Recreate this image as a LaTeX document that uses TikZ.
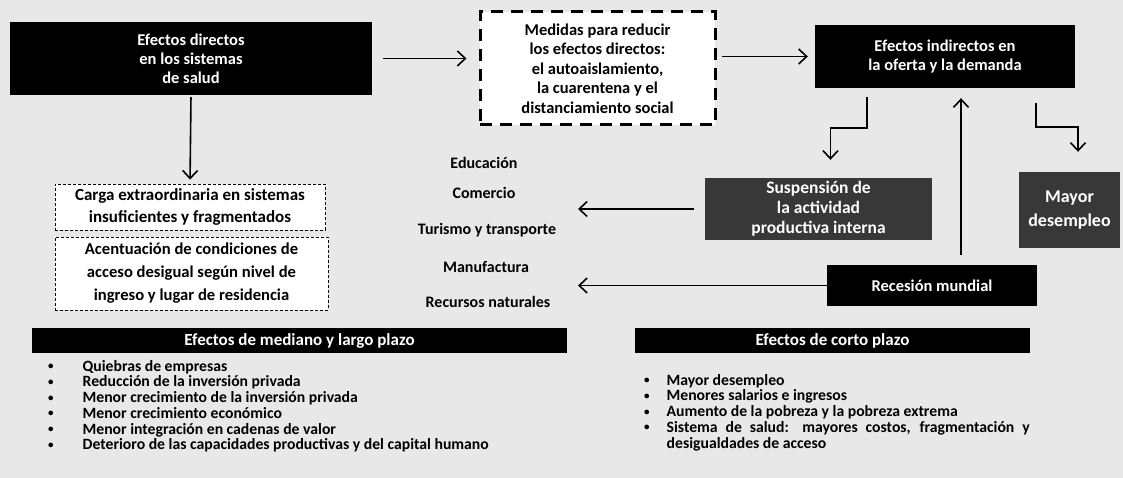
\documentclass[tikz,border=0pt]{standalone}
\usepackage{fontspec}
\setmainfont{Carlito}
\usetikzlibrary{arrows.meta}

\begin{document}
\begin{tikzpicture}[x=1pt,y=-1pt,
  negro/.style={fill=black,text=white,font=\bfseries\fontsize{16.5}{19}\selectfont,align=center,inner sep=0pt},
  gris/.style={negro,fill=black!78},
  punteado/.style={draw,densely dashed,line width=0.8pt,fill=white,font=\bfseries\fontsize{16.6}{23}\selectfont,align=center,inner sep=0pt},
  sector/.style={font=\bfseries\fontsize{16}{16}\selectfont},
  lista/.style={font=\bfseries\fontsize{15.7}{15.7}\selectfont,inner sep=0pt,anchor=north west},
  flecha/.style={line width=1.6pt,-{Straight Barb[length=8pt,width=15pt]}}]
\newcommand{\vin}{\raisebox{1.5pt}{\fontsize{11}{11}\selectfont\textbullet}}
\fill[black!9] (0,0) rectangle (1123,478);
\useasboundingbox (0,0) rectangle (1123,478);
\node[negro,minimum width=362pt,minimum height=73pt] (dirs) at (191,58.5) {Efectos directos\\en los sistemas\\de salud};
\node[draw,fill=white,line width=3pt,dash pattern=on 12pt off 8pt,minimum width=235pt,minimum height=113pt,align=center,inner sep=0pt,font=\bfseries\fontsize{16.5}{19.5}\selectfont] (medidas) at (597.5,68.5) {Medidas para reducir\\los efectos directos:\\el autoaislamiento,\\la cuarentena y el\\distanciamiento social};
\node[negro,minimum width=260pt,minimum height=63pt] (indir) at (945,56.5) {Efectos indirectos en\\la oferta y la demanda};
\node[punteado,minimum width=270pt,minimum height=46pt,font=\bfseries\fontsize{17}{22}\selectfont] (carga) at (190,207) {Carga extraordinaria en sistemas\\insuficientes y fragmentados};
\node[punteado,minimum width=273pt,minimum height=73pt] (acent) at (191.5,273.5) {Acentuación de condiciones de\\acceso desigual según nivel de\\ingreso y lugar de residencia};
\node[gris,minimum width=227pt,minimum height=62pt,font=\bfseries\fontsize{17.5}{20}\selectfont] (susp) at (818.5,209) {Suspensión de\\la actividad\\productiva interna};
\node[gris,minimum width=101pt,minimum height=76pt,font=\bfseries\fontsize{18}{24}\selectfont] (mayor) at (1069.5,210) {Mayor\\desempleo};
\node[negro,minimum width=210pt,minimum height=41pt] (reces) at (932,285.5) {Recesión mundial};
\node[sector] (edu) at (484,163) {Educación};
\node[sector] (com) at (484,193) {Comercio};
\node[sector] (tur) at (487,230) {Turismo y transporte};
\node[sector] (man) at (486,267) {Manufactura};
\node[sector] (rec) at (488,302) {Recursos naturales};
\coordinate (sect) at (578,250);
\node[negro,minimum width=535pt,minimum height=25pt,font=\bfseries\fontsize{17}{19}\selectfont] (mlp) at (299.5,340.5) {Efectos de mediano y largo plazo};
\node[negro,minimum width=395pt,minimum height=25pt,font=\bfseries\fontsize{17}{19}\selectfont] (cp) at (832.5,340.5) {Efectos de corto plazo};
\node[lista] (lmlp) at (48,360) {\begin{tabular}{@{}l@{\hspace{29pt}}l@{}}
\vin & Quiebras de empresas\\
\vin & Reducción de la inversión privada\\
\vin & Menor crecimiento de la inversión privada\\
\vin & Menor crecimiento económico\\
\vin & Menor integración en cadenas de valor\\
\vin & Deterioro de las capacidades productivas y del capital humano
\end{tabular}};
\node[lista] (lcp) at (644,374) {\begin{tabular}{@{}l@{\hspace{17pt}}p{363pt}@{}}
\vin & Mayor desempleo\\
\vin & Menores salarios e ingresos\\
\vin & Aumento de la pobreza y la pobreza extrema\\
\vin & \hyphenpenalty=10000 Sistema de salud: mayores costos, fragmentación y desigualdades de acceso
\end{tabular}};
\draw[flecha,shorten <=11pt,shorten >=12pt] (dirs.east) -- (dirs.east -| medidas.west);
\draw[flecha,shorten <=5pt,shorten >=7pt] (medidas.east |- indir.west) -- (indir.west);
\draw[flecha,shorten <=2pt,shorten >=4pt] (dirs.south) -- (carga.north);
\draw[flecha,shorten <=9pt,shorten >=18pt] ([xshift=-78pt]indir.south) -- ++(0,40) -| ([xshift=12pt]susp.north);
\draw[flecha,shorten <=15pt,shorten >=20pt] ([xshift=91pt]indir.south) -- ++(0,39) -| ([xshift=8.5pt]mayor.north);
\draw[flecha,shorten <=10pt,shorten >=10pt] ([xshift=29pt]reces.north) -- ([xshift=29pt]reces.north |- indir.south);
\draw[flecha,shorten <=11pt] (susp.west) -- (susp.west -| sect);
\draw[flecha] (reces.west) -- (reces.west -| sect);
\end{tikzpicture}
\end{document}
